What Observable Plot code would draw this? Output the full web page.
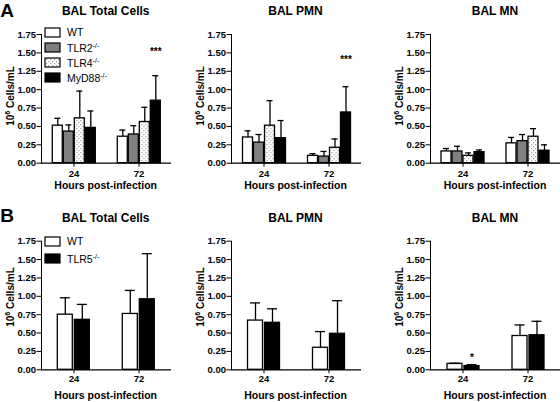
<!DOCTYPE html>
<html><head><meta charset="utf-8">
<script src="https://cdn.jsdelivr.net/npm/d3@7"></script>
<script src="https://cdn.jsdelivr.net/npm/@observablehq/plot@0.6"></script>
<style>
body{margin:0;background:#fff;}
#root{position:relative;width:560px;height:402px;overflow:hidden;font-family:Arial,"Liberation Sans",sans-serif;color:#000;}
.abs{position:absolute;white-space:nowrap;line-height:1;}
.c{transform:translate(-50%,-50%);}
.title{font-weight:bold;font-size:12px;}
.xt{font-weight:bold;font-size:10.5px;}
.yl{font-weight:bold;font-size:10px;transform:translate(-50%,-50%) rotate(-90deg);}
.sup{font-size:7px;vertical-align:4px;}
.letter{font-weight:bold;font-size:19px;}
.leg{font-size:10.5px;display:flex;align-items:center;}
.leg svg{margin-right:6px;}
.plot{position:absolute;}
#root svg.plot text{font-weight:bold !important;}
</style>
</head><body>
<svg width="0" height="0" style="position:absolute">
  <defs>
    <pattern id="dots" width="4" height="4" patternUnits="userSpaceOnUse">
      <rect width="4" height="4" fill="#fff"/>
      <rect x="0" y="0" width="1.2" height="1.2" fill="#9a9a9a"/>
      <rect x="2" y="2" width="1.2" height="1.2" fill="#9a9a9a"/>
    </pattern>
  </defs>
</svg>
<div id="root"></div>
<script>
// ---- data ----
const hours = ["24", "72"];
const yTicks = [0, 0.25, 0.5, 0.75, 1, 1.25, 1.5, 1.75];
const genotypesA = ["WT", "TLR2", "TLR4", "MyD88"];
const genotypesB = ["WT", "TLR5"];
const fillsA = ["#ffffff", "#808080", "url(#dots)", "#000000"];
const fillsB = ["#ffffff", "#000000"];

// rows: hour (24, 72); columns: genotype order
const aTotalMean  = [[0.51, 0.43, 0.61, 0.48], [0.36, 0.39, 0.56, 0.85]];
const aTotalUpper = [[0.61, 0.52, 0.98, 0.71], [0.45, 0.51, 0.76, 1.19]];
const aPmnMean    = [[0.35, 0.28, 0.51, 0.34], [0.10, 0.09, 0.21, 0.69]];
const aPmnUpper   = [[0.44, 0.39, 0.85, 0.58], [0.13, 0.16, 0.33, 1.04]];
const aMnMean     = [[0.16, 0.16, 0.10, 0.15], [0.27, 0.30, 0.36, 0.17]];
const aMnUpper    = [[0.20, 0.23, 0.14, 0.18], [0.35, 0.39, 0.47, 0.25]];

const bTotalMean  = [[0.75, 0.68], [0.76, 0.96]];
const bTotalUpper = [[0.98, 0.89], [1.08, 1.58]];
const bPmnMean    = [[0.67, 0.64], [0.30, 0.49]];
const bPmnUpper   = [[0.91, 0.83], [0.52, 0.94]];
const bMnMean     = [[0.08, 0.05], [0.46, 0.47]];
const bMnUpper    = [[0.09, 0.07], [0.61, 0.66]];

const starsATotal = [{hour: "72", genotype: "MyD88", at: 1.51, label: "***"}];
const starsAPmn   = [{hour: "72", genotype: "MyD88", at: 1.40, label: "***"}];
const starsBMn    = [{hour: "24", genotype: "TLR5", at: 0.16, label: "*"}];

const titles = ["BAL Total Cells", "BAL PMN", "BAL MN"];
const legendA = [["WT", ""], ["TLR2", "-/-"], ["TLR4", "-/-"], ["MyD88", "-/-"]];
const legendB = [["WT", ""], ["TLR5", "-/-"]];

// ---- layout ----
const root = document.getElementById("root");
const colLeft = [0, 190, 390];
const colMargin = [40.7, 40.5, 40];
const FRAME_W = 130;
const rowsCfg = [
  {top: 0, height: 200, mt: 34, mb: 37.3, tickPad: 3.2, titleY: 11, xtY: 184.5, ylY: 96,
   genotypes: genotypesA, fills: fillsA, pi: 0.13, po: 0.89, inset: 2,
   means: [aTotalMean, aPmnMean, aMnMean], uppers: [aTotalUpper, aPmnUpper, aMnUpper],
   stars: [starsATotal, starsAPmn, []]},
  {top: 200, height: 202, mt: 40.7, mb: 32.7, tickPad: 1.8, titleY: 218, xtY: 395, ylY: 297,
   genotypes: genotypesB, fills: fillsB, pi: 0.143, po: 0.93, inset: 2.5,
   means: [bTotalMean, bPmnMean, bMnMean], uppers: [bTotalUpper, bPmnUpper, bMnUpper],
   stars: [[], [], starsBMn]}
];

function addText(html, cls, x, y) {
  const d = document.createElement("div");
  d.className = "abs " + cls;
  d.style.left = x + "px";
  d.style.top = y + "px";
  d.innerHTML = html;
  root.appendChild(d);
  return d;
}

rowsCfg.forEach((R, ri) => {
  for (let ci = 0; ci < 3; ci++) {
    const ml = colMargin[ci];
    const rows = [];
    hours.forEach((h, i) => R.genotypes.forEach((g, j) =>
      rows.push({hour: h, genotype: g, mean: R.means[ci][i][j], upper: R.uppers[ci][i][j]})));
    const chart = Plot.plot({
      width: ml + FRAME_W + 10,
      height: R.height,
      marginLeft: ml, marginRight: 10, marginTop: R.mt, marginBottom: R.mb,
      style: {fontFamily: 'Arial, "Liberation Sans", sans-serif', fontSize: "9.5px", fontWeight: "bold", background: "transparent", overflow: "visible", color: "black"},
      fx: {domain: hours, padding: 0, label: null, axis: "bottom", tickSize: 4, tickPadding: R.tickPad},
      x: {domain: R.genotypes, axis: null, paddingInner: R.pi, paddingOuter: R.po},
      y: {domain: [0, 1.75], ticks: yTicks, tickFormat: d3.format(".2f"), line: true, label: null, tickSize: 4.5, tickPadding: 1},
      color: {domain: R.genotypes, range: R.fills},
      marks: [
        Plot.ruleX(rows, {fx: "hour", x: "genotype", y1: "mean", y2: "upper", stroke: "black", strokeWidth: 1.3}),
        Plot.tickY(rows, {fx: "hour", x: "genotype", y: "upper", stroke: "black", strokeWidth: 1.3, inset: R.inset}),
        Plot.barY(rows, {fx: "hour", x: "genotype", y: "mean", fill: "genotype", stroke: "black", strokeWidth: 1.3}),
        Plot.ruleY([0], {stroke: "black", strokeWidth: 1.3}),
        Plot.text(R.stars[ci], {fx: "hour", x: "genotype", y: "at", text: "label", fontSize: 10, fill: "black"})
      ]
    });
    chart.classList.add("plot");
    chart.style.left = colLeft[ci] + "px";
    chart.style.top = R.top + "px";
    root.appendChild(chart);

    const axisX = colLeft[ci] + ml;
    addText(titles[ci], "title c", axisX + 65, R.titleY);
    addText("Hours post-infection", "xt c", axisX + 65, R.xtY);
    addText('10<span class="sup">6</span> Cells/mL', "yl", axisX - 31, R.ylY);
  }
});

addText("A", "letter c", 7, 10);
addText("B", "letter c", 7, 215);

function legend(items, fills, x, y0, step, swH) {
  items.forEach(([name, sup], i) => {
    const d = addText("", "leg", x, 0);
    const ns = "http://www.w3.org/2000/svg";
    const s = document.createElementNS(ns, "svg");
    s.setAttribute("width", 17); s.setAttribute("height", swH + 2);
    const r = document.createElementNS(ns, "rect");
    r.setAttribute("x", 1); r.setAttribute("y", 1);
    r.setAttribute("width", 15); r.setAttribute("height", swH);
    r.setAttribute("fill", fills[i]); r.setAttribute("stroke", "black"); r.setAttribute("stroke-width", 1.2);
    s.appendChild(r);
    d.appendChild(s);
    const t = document.createElement("span");
    t.innerHTML = name + (sup ? '<span class="sup">' + sup + '</span>' : "");
    d.appendChild(t);
    d.style.top = (y0 + i * step - (swH + 2) / 2) + "px";
  });
}
legend(legendA, fillsA, 44, 32.5, 15, 9);
legend(legendB, fillsB, 44, 241.5, 16.5, 9);
</script>
</body></html>
